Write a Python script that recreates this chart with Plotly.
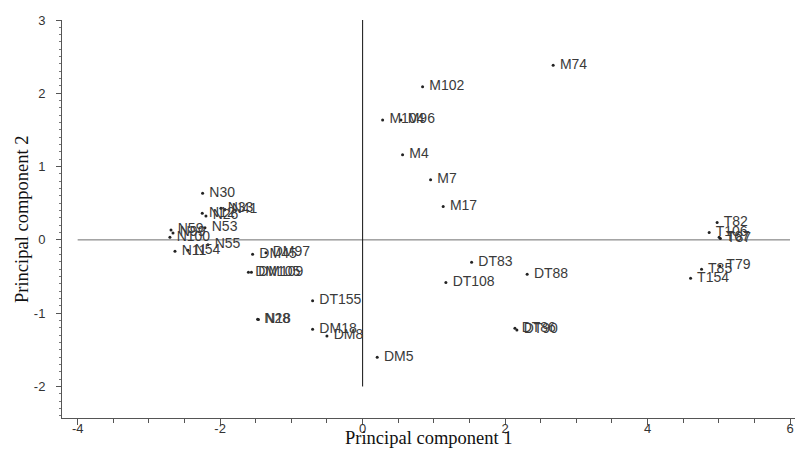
import plotly.graph_objects as go

# Sample scores on the first two principal components
labels = [
    "N30", "N12", "N26", "N33", "N41", "N53", "N59", "N99", "N100", "N11", "N54", "N55",
    "DM45", "DM97", "DM105", "DM109", "DT155", "N28", "N18", "DM18", "DM8", "DM5",
    "M74", "M102", "M104", "M96", "M4", "M7", "M17",
    "DT83", "DT108", "DT88", "DT86", "DT90",
    "T82", "T106", "T67", "T87", "T85", "T79", "T154",
]
pc1 = [
    -2.246, -2.251, -2.199, -1.989, -1.933, -2.213, -2.690, -2.662, -2.705, -2.634, -2.452, -2.171,
    -1.544, -1.357, -1.603, -1.561, -0.702, -1.474, -1.462, -0.702, -0.501, 0.205,
    2.675, 0.842, 0.281, 0.538, 0.561, 0.954, 1.131,
    1.530, 1.169, 2.310, 2.138, 2.166,
    4.977, 4.865, 5.005, 5.022, 4.758, 5.015, 4.604,
]
pc2 = [
    0.637, 0.364, 0.327, 0.430, 0.416, 0.164, 0.136, 0.095, 0.037, -0.154, -0.143, -0.068,
    -0.195, -0.177, -0.441, -0.443, -0.832, -1.082, -1.085, -1.218, -1.310, -1.600,
    2.383, 2.091, 1.637, 1.637, 1.160, 0.819, 0.454,
    -0.304, -0.583, -0.468, -1.205, -1.228,
    0.236, 0.100, 0.037, 0.020, -0.400, -0.355, -0.523,
]

x_ticks = [-4, -2, 0, 2, 4, 6]
y_ticks = [-2, -1, 0, 1, 2, 3]

fig = go.Figure()

# Each sample: a small dot with its name set a little to the right
fig.add_trace(go.Scatter(
    x=pc1, y=pc2, text=[" " + s for s in labels],
    mode="markers+text",
    textposition="middle right",
    marker=dict(size=3, color="#222222"),
    textfont=dict(family="Liberation Sans, Arial, sans-serif", size=14, color="#3a3a3a"),
    cliponaxis=False,
    hoverinfo="text",
    showlegend=False,
))

# Reference axes through the origin
fig.add_shape(type="line", x0=-4, x1=6, y0=0, y1=0, xref="x", yref="y",
              line=dict(color="#6e6e6e", width=1), layer="below")
fig.add_shape(type="line", x0=0, x1=0, y0=-2, y1=3, xref="x", yref="y",
              line=dict(color="#111111", width=1), layer="below")

tick_font = dict(family="Liberation Sans, Arial, sans-serif", size=13, color="#333333")
title_font = dict(family="Liberation Serif, Times New Roman, serif", size=18.5, color="#111111")

# Axis titles placed in the margins
fig.add_annotation(text="Principal component 1", xref="paper", yref="paper",
                   x=0.5, y=0, yshift=-20, xanchor="center", yanchor="middle",
                   showarrow=False, font=title_font)
fig.add_annotation(text="Principal component 2", xref="paper", yref="paper",
                   x=0, y=0.5, xshift=-40, xanchor="center", yanchor="middle",
                   textangle=-90, showarrow=False, font=title_font)

fig.update_layout(
    width=795, height=453,
    margin=dict(l=62, r=0, t=20, b=35, autoexpand=False),
    paper_bgcolor="white", plot_bgcolor="white",
    xaxis=dict(
        range=[-4.22, 6.07], tickvals=x_ticks, ticktext=[str(v) for v in x_ticks],
        showgrid=False, zeroline=False, automargin=False,
        showline=True, linecolor="#555555", linewidth=1,
        ticks="outside", ticklen=6, tickcolor="#555555",
        minor=dict(dtick=0.5, tick0=0, ticks="outside", ticklen=4, tickcolor="#555555"),
        tickfont=tick_font, ticklabelstandoff=-8,
    ),
    yaxis=dict(
        range=[-2.43, 3.0], tickvals=y_ticks, ticktext=[str(v) for v in y_ticks],
        showgrid=False, zeroline=False, automargin=False,
        showline=True, linecolor="#555555", linewidth=1,
        ticks="outside", ticklen=5, tickcolor="#555555",
        minor=dict(dtick=0.1, tick0=0, ticks="outside", ticklen=2, tickcolor="#777777"),
        tickfont=tick_font, ticklabelstandoff=8,
    ),
)

fig.write_html("out.html")
